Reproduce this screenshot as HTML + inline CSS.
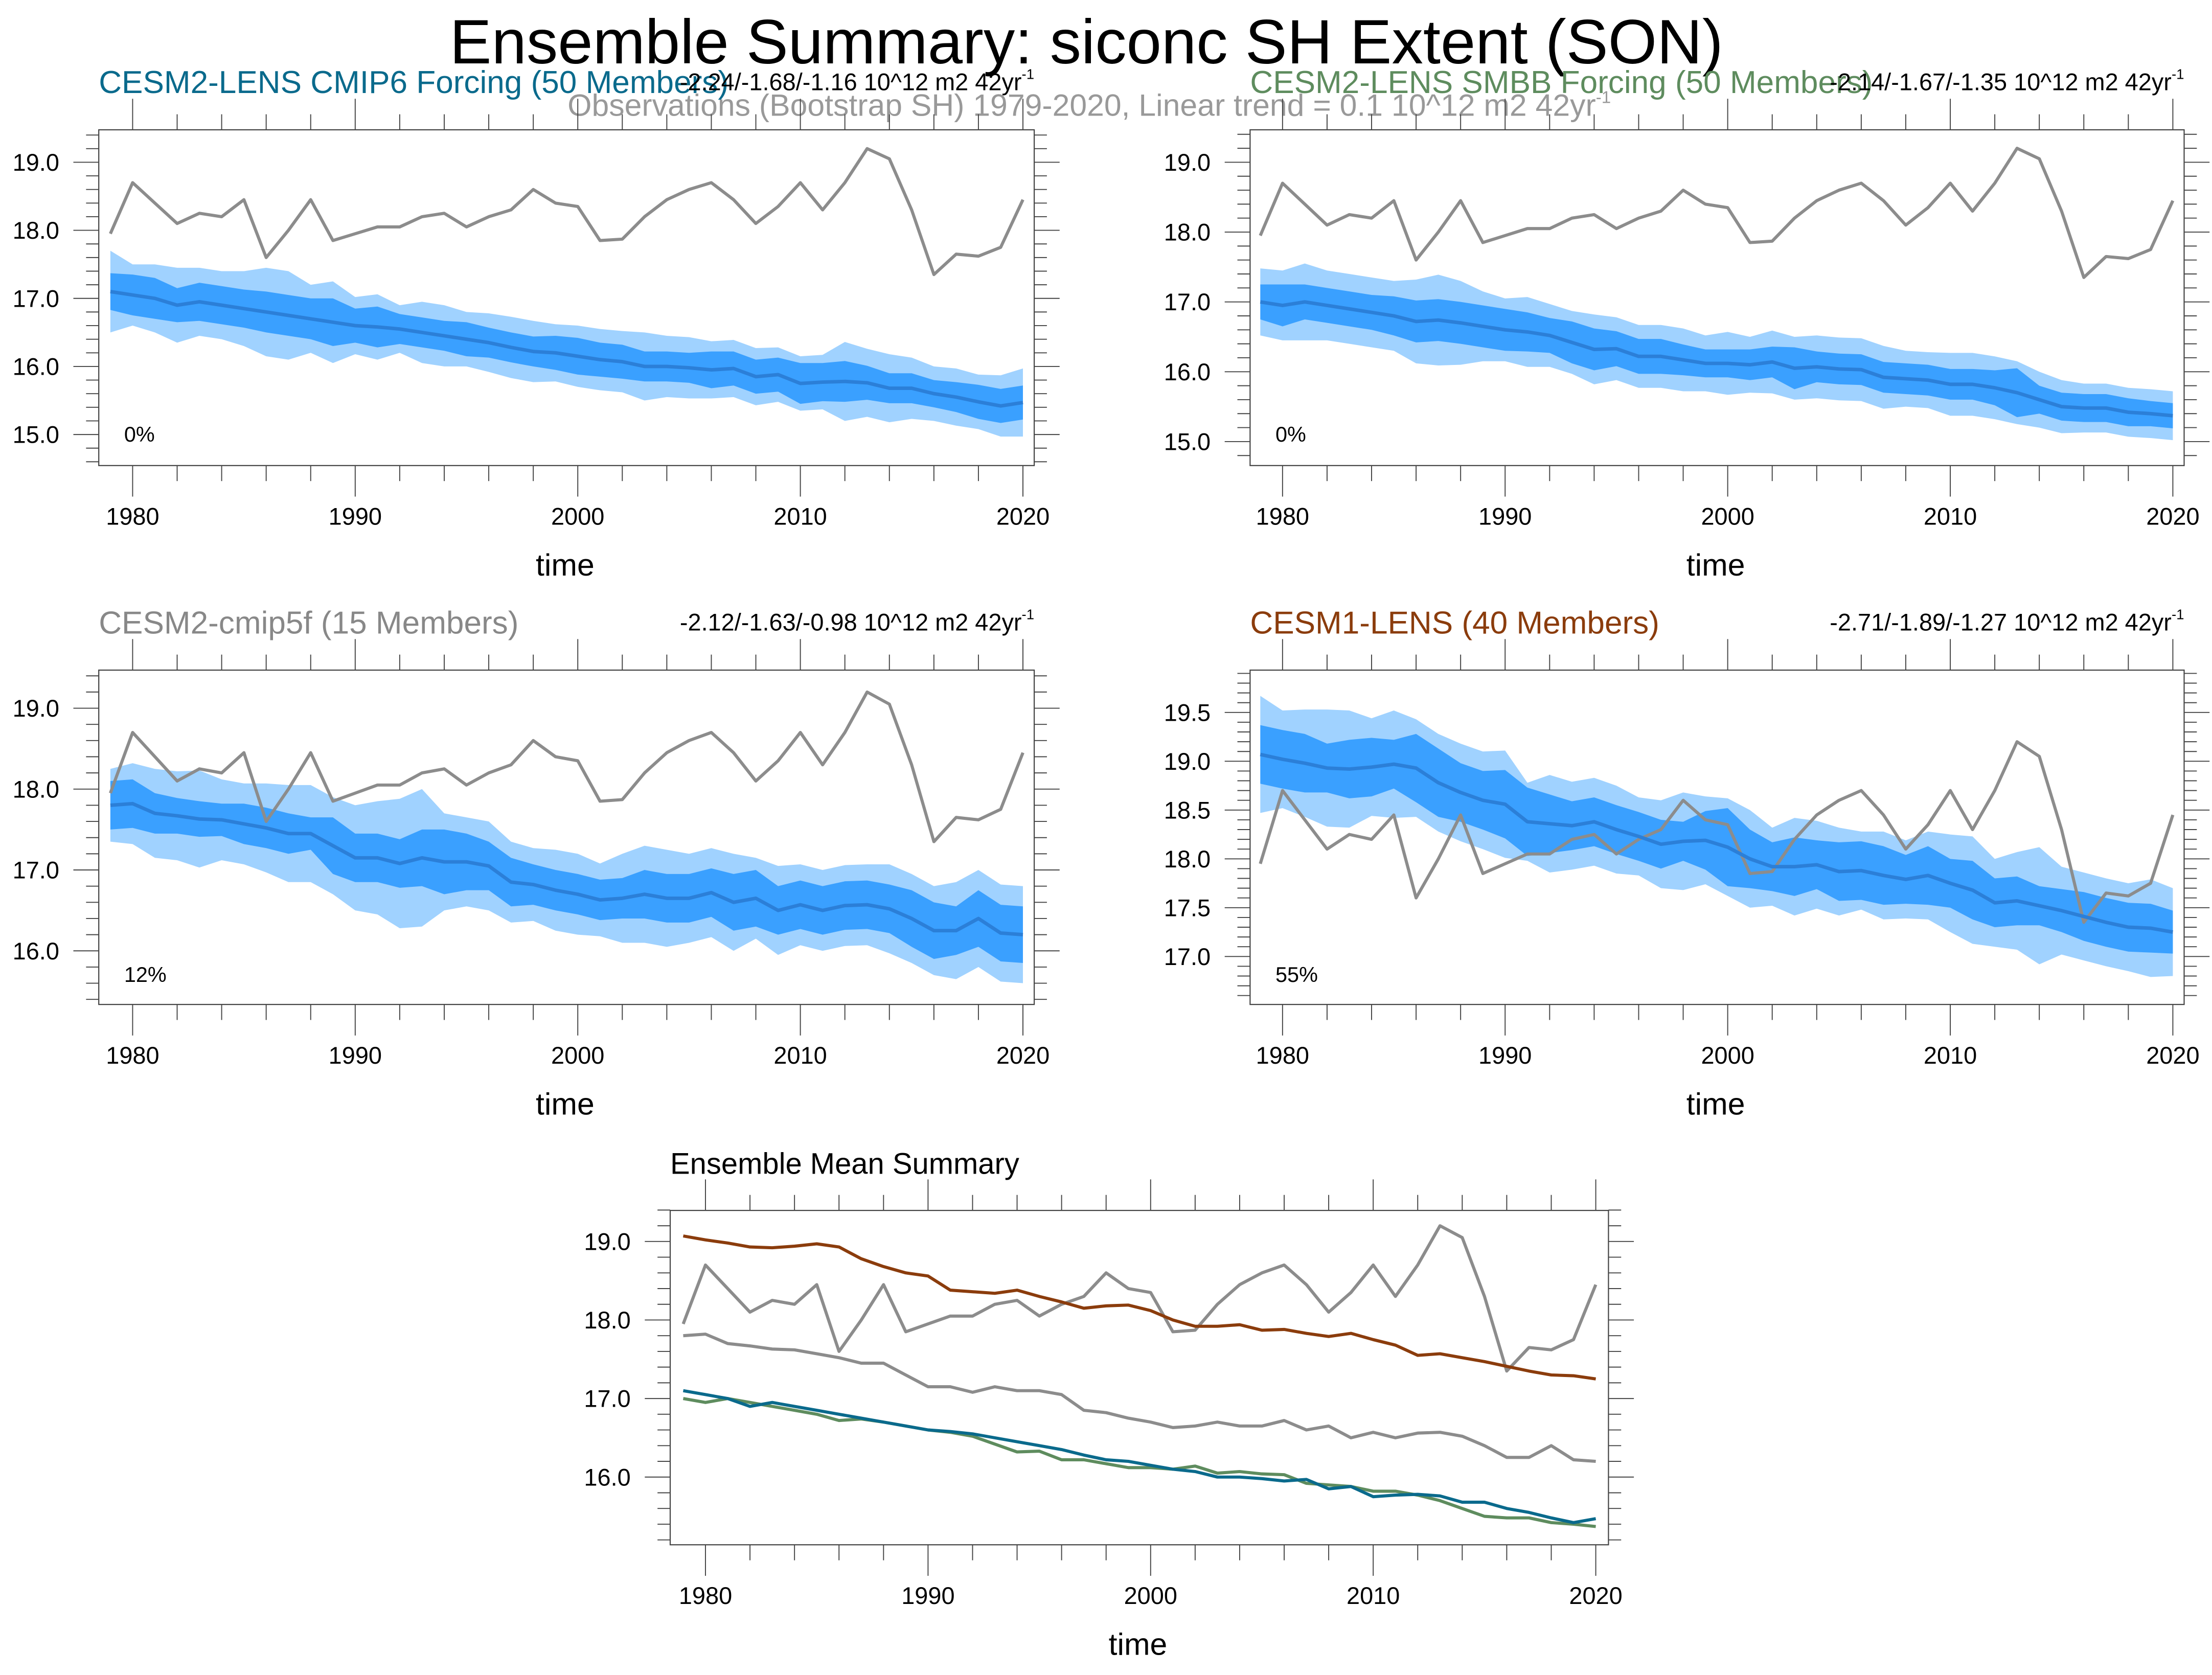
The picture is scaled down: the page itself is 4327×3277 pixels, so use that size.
<!DOCTYPE html>
<html><head><meta charset="utf-8"><style>
html,body{margin:0;padding:0;background:#fff}
svg{display:block}
text{font-family:"Liberation Sans",sans-serif}
</style></head><body>
<svg id="chart" width="4327" height="3277" viewBox="0 0 1567.75 1187.3" xmlns="http://www.w3.org/2000/svg">
<rect width="1567.75" height="1187.3" fill="#fff"/>
<text x="770" y="45" font-size="44.5" text-anchor="middle">Ensemble Summary: siconc SH Extent (SON)</text>
<text x="772" y="82" font-size="22" fill="#999" text-anchor="middle">Observations (Bootstrap SH) 1979-2020, Linear trend = 0.1 10^12 m2 42yr<tspan font-size="12" dy="-9">-1</tspan></text>
<g id="plots"></g>
</svg>
<script>
const years = [];
for (let y = 1979; y <= 2020; y++) years.push(y);
const obs = [17.95,18.7,18.4,18.1,18.25,18.2,18.45,17.6,18.0,18.45,17.85,17.95,18.05,18.05,18.2,18.25,18.05,18.2,18.3,18.6,18.4,18.35,17.85,17.87,18.2,18.45,18.6,18.7,18.45,18.1,18.35,18.7,18.3,18.7,19.2,19.05,18.3,17.35,17.65,17.62,17.75,18.45];
const meanCmip6 = [17.1,17.05,17.0,16.9,16.95,16.9,16.85,16.8,16.75,16.7,16.65,16.6,16.58,16.55,16.5,16.45,16.4,16.35,16.28,16.22,16.2,16.15,16.1,16.07,16.0,16.0,15.98,15.95,15.97,15.85,15.88,15.75,15.77,15.78,15.76,15.68,15.68,15.6,15.55,15.48,15.42,15.47];
const innerCmip6 = [0.27,0.3,0.3,0.25,0.28,0.28,0.28,0.3,0.3,0.3,0.35,0.25,0.3,0.22,0.22,0.22,0.25,0.22,0.22,0.22,0.25,0.27,0.25,0.25,0.22,0.22,0.22,0.27,0.25,0.25,0.25,0.3,0.28,0.3,0.25,0.22,0.22,0.2,0.22,0.25,0.25,0.25];
const outerCmip6 = [0.6,0.45,0.5,0.55,0.5,0.5,0.55,0.65,0.65,0.5,0.6,0.42,0.48,0.35,0.45,0.45,0.4,0.43,0.45,0.45,0.42,0.45,0.45,0.45,0.5,0.45,0.45,0.42,0.42,0.42,0.4,0.4,0.4,0.58,0.5,0.5,0.45,0.4,0.42,0.4,0.45,0.5];
const meanSmbb = [17.0,16.95,17.0,16.95,16.9,16.85,16.8,16.72,16.74,16.7,16.65,16.6,16.57,16.52,16.42,16.32,16.33,16.22,16.22,16.17,16.12,16.12,16.1,16.14,16.05,16.07,16.04,16.03,15.92,15.9,15.88,15.82,15.82,15.77,15.7,15.6,15.5,15.48,15.48,15.42,15.4,15.37];
const innerSmbb = [0.25,0.3,0.25,0.25,0.25,0.25,0.28,0.3,0.3,0.3,0.3,0.3,0.28,0.25,0.3,0.3,0.25,0.25,0.25,0.22,0.2,0.2,0.22,0.22,0.3,0.22,0.22,0.22,0.22,0.22,0.22,0.22,0.22,0.25,0.35,0.2,0.2,0.2,0.2,0.2,0.18,0.18];
const outerSmbb = [0.48,0.5,0.55,0.5,0.5,0.5,0.5,0.6,0.65,0.6,0.5,0.45,0.5,0.45,0.45,0.5,0.45,0.45,0.45,0.45,0.4,0.45,0.4,0.45,0.45,0.45,0.45,0.45,0.45,0.4,0.4,0.45,0.45,0.45,0.45,0.4,0.38,0.35,0.35,0.35,0.35,0.35];
const meanCmip5f = [17.8,17.82,17.7,17.67,17.63,17.62,17.57,17.52,17.45,17.45,17.3,17.15,17.15,17.08,17.15,17.1,17.1,17.05,16.85,16.82,16.75,16.7,16.63,16.65,16.7,16.65,16.65,16.72,16.6,16.65,16.5,16.57,16.5,16.56,16.57,16.52,16.4,16.25,16.25,16.4,16.22,16.2];
const innerCmip5f = [0.3,0.3,0.25,0.22,0.22,0.2,0.25,0.25,0.25,0.2,0.35,0.3,0.3,0.3,0.35,0.4,0.35,0.3,0.3,0.25,0.25,0.25,0.25,0.25,0.3,0.3,0.3,0.3,0.35,0.35,0.3,0.3,0.3,0.3,0.3,0.3,0.35,0.35,0.3,0.35,0.35,0.35];
const outerCmip5f = [0.45,0.5,0.55,0.55,0.6,0.5,0.5,0.55,0.6,0.6,0.6,0.65,0.7,0.8,0.85,0.6,0.55,0.55,0.5,0.45,0.5,0.5,0.45,0.55,0.6,0.6,0.55,0.55,0.6,0.5,0.55,0.5,0.5,0.5,0.5,0.55,0.55,0.55,0.6,0.6,0.6,0.6];
const meanCesm1 = [19.07,19.02,18.98,18.93,18.92,18.94,18.97,18.93,18.78,18.68,18.6,18.56,18.38,18.36,18.34,18.38,18.3,18.23,18.15,18.18,18.19,18.12,18.0,17.92,17.92,17.94,17.87,17.88,17.83,17.79,17.83,17.75,17.68,17.55,17.57,17.52,17.47,17.41,17.35,17.3,17.29,17.25];
const innerCmesm1 = [0.3,0.3,0.3,0.25,0.3,0.3,0.25,0.35,0.35,0.3,0.3,0.35,0.35,0.3,0.25,0.25,0.25,0.25,0.25,0.2,0.3,0.4,0.3,0.25,0.3,0.25,0.3,0.3,0.3,0.25,0.3,0.25,0.3,0.25,0.25,0.2,0.22,0.25,0.25,0.25,0.25,0.22];
const outerCesm1 = [0.6,0.5,0.55,0.6,0.6,0.5,0.55,0.5,0.5,0.5,0.5,0.55,0.4,0.5,0.45,0.45,0.45,0.4,0.45,0.5,0.45,0.5,0.5,0.4,0.5,0.45,0.45,0.4,0.45,0.4,0.45,0.5,0.55,0.45,0.5,0.6,0.45,0.45,0.45,0.45,0.5,0.45];

const NS = "http://www.w3.org/2000/svg";
const root = document.getElementById('plots');
function mk(tag, attrs, parent, text) {
  const e = document.createElementNS(NS, tag);
  for (const k in attrs) e.setAttribute(k, attrs[k]);
  if (text !== undefined) e.textContent = text;
  (parent || root).appendChild(e);
  return e;
}

function panel(cfg) {
  const g = mk('g', {});
  
  
  const L = cfg.x0, R = cfg.x1, T = cfg.y0, B = cfg.y1;
  const X = yr => cfg.xa + (yr - 1980) * (cfg.xb - cfg.xa) / 40;
  const Y = v => cfg.ya + (cfg.va - v) * (cfg.yb - cfg.ya) / (cfg.va - cfg.vb);
  if (cfg.mean && cfg.outer) {
    [['outer', '#a0d2ff', cfg.outer], ['inner', '#3aa0ff', cfg.inner]].forEach(([nm, col, w]) => {
      let up = years.map((yr, i) => X(yr).toFixed(2) + ',' + Y(cfg.mean[i] + w[i]).toFixed(2));
      let lo = years.map((yr, i) => X(yr).toFixed(2) + ',' + Y(cfg.mean[i] - w[i]).toFixed(2)).reverse();
      const p = mk('polygon', { points: up.concat(lo).join(' '), fill: col }, g);
      
      
    });
  }
  cfg.lines.forEach(ln => {
    const pts = years.map((yr, i) => X(yr).toFixed(2) + ',' + Y(ln.data[i]).toFixed(2)).join(' ');
    const pl = mk('polyline', { points: pts, fill: 'none', stroke: ln.color, 'stroke-width': ln.w, 'stroke-linejoin': 'round' }, g);
    
    
  });
  const fr = mk('rect', { x: L, y: T, width: R - L, height: B - T, fill: 'none', stroke: '#444', 'stroke-width': 0.8 }, g);
  
  
  for (let yr = 1980; yr <= 2020; yr += 2) {
    const x = X(yr), maj = yr % 10 === 0, len = maj ? 22 : 11;
    mk('line', { x1: x, x2: x, y1: B, y2: B + len, stroke: '#444', 'stroke-width': 0.7 }, g);
    mk('line', { x1: x, x2: x, y1: T, y2: T - len, stroke: '#444', 'stroke-width': 0.7 }, g);
    if (maj) {
      const t = mk('text', { x: x, y: B + 42, 'font-size': 17, 'text-anchor': 'middle' }, g, String(yr));
      
      
    }
  }
  const step = cfg.minor;
  for (let v = cfg.vmin; v <= cfg.vmax + 1e-6; v += step) {
    const y = Y(v);
    if (y < T - 0.5 || y > B + 0.5) continue;
    const maj = Math.abs(v / cfg.major - Math.round(v / cfg.major)) < 1e-6;
    const len = maj ? 18 : 9;
    mk('line', { x1: L, x2: L - len, y1: y, y2: y, stroke: '#444', 'stroke-width': 0.7 }, g);
    mk('line', { x1: R, x2: R + len, y1: y, y2: y, stroke: '#444', 'stroke-width': 0.7 }, g);
    if (maj && v >= cfg.labMin - 1e-6 && v <= cfg.labMax + 1e-6) {
      const t = mk('text', { x: L - 28, y: y + 6, 'font-size': 17, 'text-anchor': 'end' }, g, v.toFixed(1));
      
      
    }
  }
  const xt = mk('text', { x: (L + R) / 2 - 1, y: B + 78, 'font-size': 22, 'text-anchor': 'middle' }, g, 'time');
  
  
  const tt = mk('text', { x: L, y: T - 26, 'font-size': cfg.titleSize || 22.5, fill: cfg.titleColor }, g, cfg.title);
  
  
  if (cfg.trend) {
    const tr = mk('text', { x: R, y: T - 28, 'font-size': 17, 'text-anchor': 'end' }, g, cfg.trend);
    mk('tspan', { 'font-size': 10, dy: -8 }, tr, '-1');
    
    
  }
  if (cfg.pct) {
    const pc = mk('text', { x: L + 18, y: cfg.pctY, 'font-size': 15 }, g, cfg.pct);
    
    
  }
}

const OBSC = '#8c8c8c', MEANC = '#2b7fd8';
panel({ name: 'panel-cesm2-cmip6', x0: 70, x1: 733, y0: 92, y1: 330, xa: 94, xb: 725, ya: 115, va: 19, yb: 308, vb: 15,
  vmin: 14.6, vmax: 19.6, minor: 0.2, major: 1, labMin: 15, labMax: 19,
  mean: meanCmip6, inner: innerCmip6, outer: outerCmip6,
  lines: [{ data: obs, color: OBSC, w: 2.2, name: 'observations-line' }, { data: meanCmip6, color: MEANC, w: 2.5, name: 'ensemble-mean-line' }],
  title: 'CESM2-LENS CMIP6 Forcing (50 Members)', titleColor: '#0a6a8c', trend: '-2.24/-1.68/-1.16 10^12 m2 42yr', pct: '0%', pctY: 313 });
panel({ name: 'panel-cesm2-smbb', x0: 886, x1: 1548, y0: 92, y1: 330, xa: 909, xb: 1540, ya: 115, va: 19, yb: 313, vb: 15,
  vmin: 14.6, vmax: 19.6, minor: 0.2, major: 1, labMin: 15, labMax: 19,
  mean: meanSmbb, inner: innerSmbb, outer: outerSmbb,
  lines: [{ data: obs, color: OBSC, w: 2.2, name: 'observations-line' }, { data: meanSmbb, color: MEANC, w: 2.5, name: 'ensemble-mean-line' }],
  title: 'CESM2-LENS SMBB Forcing (50 Members)', titleColor: '#5e8c5e', trend: '-2.14/-1.67/-1.35 10^12 m2 42yr', pct: '0%', pctY: 313 });
panel({ name: 'panel-cesm2-cmip5f', x0: 70, x1: 733, y0: 475, y1: 712, xa: 94, xb: 725, ya: 502, va: 19, yb: 674, vb: 16,
  vmin: 15.4, vmax: 19.6, minor: 0.2, major: 1, labMin: 16, labMax: 19,
  mean: meanCmip5f, inner: innerCmip5f, outer: outerCmip5f,
  lines: [{ data: obs, color: OBSC, w: 2.2, name: 'observations-line' }, { data: meanCmip5f, color: MEANC, w: 2.5, name: 'ensemble-mean-line' }],
  title: 'CESM2-cmip5f (15 Members)', titleColor: '#888', trend: '-2.12/-1.63/-0.98 10^12 m2 42yr', pct: '12%', pctY: 696 });
panel({ name: 'panel-cesm1-lens', x0: 886, x1: 1548, y0: 475, y1: 712, xa: 909, xb: 1540, ya: 505, va: 19.5, yb: 678, vb: 17,
  vmin: 16.5, vmax: 19.9, minor: 0.1, major: 0.5, labMin: 17, labMax: 19.5,
  mean: meanCesm1, inner: innerCmesm1, outer: outerCesm1,
  lines: [{ data: obs, color: OBSC, w: 2.2, name: 'observations-line' }, { data: meanCesm1, color: MEANC, w: 2.5, name: 'ensemble-mean-line' }],
  title: 'CESM1-LENS (40 Members)', titleColor: '#8b3c0c', trend: '-2.71/-1.89/-1.27 10^12 m2 42yr', pct: '55%', pctY: 696 });
panel({ name: 'panel-ensemble-mean-summary', x0: 475, x1: 1140, y0: 858, y1: 1095, xa: 500, xb: 1131, ya: 880, va: 19, yb: 1047, vb: 16,
  vmin: 15.2, vmax: 19.6, minor: 0.2, major: 1, labMin: 16, labMax: 19,
  lines: [{ data: obs, color: OBSC, w: 2.2, name: 'observations-line' },
          { data: meanCesm1, color: '#8b3c0c', w: 2.2, name: 'cesm1-lens-mean-line' },
          { data: meanCmip5f, color: '#8c8c8c', w: 2.2, name: 'cesm2-cmip5f-mean-line' },
          { data: meanSmbb, color: '#5e8c5e', w: 2.2, name: 'cesm2-smbb-mean-line' },
          { data: meanCmip6, color: '#0a6a8c', w: 2.2, name: 'cesm2-cmip6-mean-line' }],
  title: 'Ensemble Mean Summary', titleColor: '#000', titleSize: 21 });
</script>
</body></html>
